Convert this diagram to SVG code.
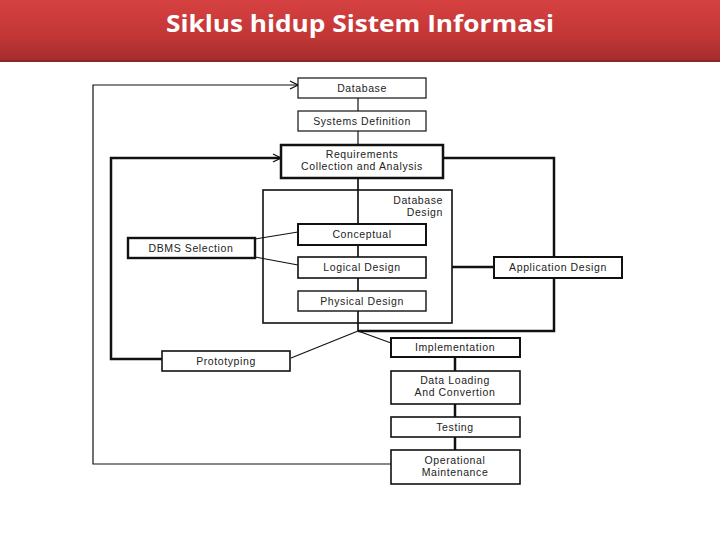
<svg xmlns="http://www.w3.org/2000/svg" width="720" height="540" viewBox="0 0 720 540">
<defs>
<linearGradient id="hdr" x1="0" y1="0" x2="0" y2="1">
<stop offset="0" stop-color="#d64141"/>
<stop offset="0.6" stop-color="#c23636"/>
<stop offset="1" stop-color="#a22c2c"/>
</linearGradient>
<marker id="chev" viewBox="0 0 10 10" refX="9" refY="5" markerWidth="10" markerHeight="10" markerUnits="userSpaceOnUse" orient="auto">
<path d="M1,1 L9,5 L1,9" fill="none" stroke="#111" stroke-width="1.3"/>
</marker>
<style>
.b{fill:#fff;stroke:#111}
.t{font-family:"Liberation Sans",Arial,sans-serif;font-size:10.5px;fill:#222;text-anchor:middle;letter-spacing:0.6px}
.c{fill:none;stroke:#111;stroke-width:1.2}
.k{fill:none;stroke:#111;stroke-width:2.5}
</style>
</defs>
<rect width="720" height="540" fill="#fff"/>
<rect x="0" y="0" width="720" height="62" fill="url(#hdr)"/>
<rect x="0" y="60" width="720" height="2" fill="#8f2626"/>
<text x="360" y="32" font-family="'Open Sans','Liberation Sans',sans-serif" font-weight="bold" font-size="24" fill="#fff" text-anchor="middle" textLength="388" lengthAdjust="spacingAndGlyphs">Siklus hidup Sistem Informasi</text>

<g id="connectors">
<line class="c" x1="358" y1="98" x2="358" y2="331"/>
<path class="c" d="M391,464 H93 V85 H298" marker-end="url(#chev)"/>
<path class="k" d="M162,359 H111 V158 H281" marker-end="url(#chev)"/>
<path class="k" d="M443,158 H554 V331 H358"/>
<line class="k" x1="452" y1="267" x2="494" y2="267"/>
<line class="c" x1="358" y1="331" x2="291" y2="358"/>
<line class="c" x1="358" y1="331" x2="391" y2="343"/>
<line class="c" x1="255" y1="239" x2="298" y2="232"/>
<line class="c" x1="255" y1="257" x2="298" y2="265"/>
<line class="k" x1="455" y1="357" x2="455" y2="450"/>
</g>

<g id="db-design">
<rect x="263" y="190" width="189" height="133" fill="none" stroke="#111" stroke-width="1.6"/>
<text class="t" x="443" y="204" text-anchor="end" style="text-anchor:end">Database</text>
<text class="t" x="443" y="216" style="text-anchor:end">Design</text>
</g>
<line x1="358" y1="178" x2="358" y2="331" stroke="#111" stroke-width="1.2"/>

<g id="database"><rect class="b" x="298" y="78" width="128" height="20" stroke-width="1.2"/><text class="t" x="362" y="92">Database</text></g>
<g id="systems-definition"><rect class="b" x="298" y="111" width="128" height="20" stroke-width="1.2"/><text class="t" x="362" y="125">Systems Definition</text></g>
<g id="requirements"><rect class="b" x="281" y="145" width="162" height="33" stroke-width="2.5"/><text class="t" x="362" y="158">Requirements</text><text class="t" x="362" y="170">Collection and Analysis</text></g>
<g id="conceptual"><rect class="b" x="298" y="224" width="128" height="21" stroke-width="2"/><text class="t" x="362" y="238">Conceptual</text></g>
<g id="logical-design"><rect class="b" x="298" y="257" width="128" height="21" stroke-width="1.6"/><text class="t" x="362" y="271">Logical Design</text></g>
<g id="physical-design"><rect class="b" x="298" y="291" width="128" height="20" stroke-width="1.4"/><text class="t" x="362" y="305">Physical Design</text></g>
<g id="dbms-selection"><rect class="b" x="128" y="238" width="127" height="20" stroke-width="2.4"/><text class="t" x="191" y="252">DBMS Selection</text></g>
<g id="application-design"><rect class="b" x="494" y="257" width="128" height="21" stroke-width="2"/><text class="t" x="558" y="271">Application Design</text></g>
<g id="implementation"><rect class="b" x="391" y="338" width="129" height="19" stroke-width="2"/><text class="t" x="455" y="351">Implementation</text></g>
<g id="data-loading"><rect class="b" x="391" y="371" width="129" height="33" stroke-width="1.6"/><text class="t" x="455" y="384">Data Loading</text><text class="t" x="455" y="396">And Convertion</text></g>
<g id="testing"><rect class="b" x="391" y="417" width="129" height="20" stroke-width="1.6"/><text class="t" x="455" y="431">Testing</text></g>
<g id="operational-maintenance"><rect class="b" x="391" y="450" width="129" height="34" stroke-width="1.6"/><text class="t" x="455" y="464">Operational</text><text class="t" x="455" y="476">Maintenance</text></g>
<g id="prototyping"><rect class="b" x="162" y="351" width="128" height="20" stroke-width="1.6"/><text class="t" x="226" y="365">Prototyping</text></g>
</svg>
